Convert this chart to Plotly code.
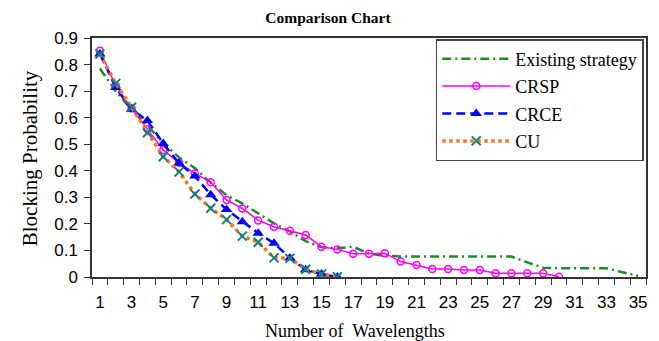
import plotly.graph_objects as go

wavelengths = list(range(1, 36))
x_tick_labels = [str(v) for v in range(1, 36, 2)]

existing = [0.785, 0.70, 0.63, 0.57, 0.505, 0.45, 0.41, 0.355, 0.308, 0.277, 0.24, 0.202,
            0.172, 0.135, 0.112, 0.108, 0.114, 0.088, 0.080, 0.077, 0.077, 0.077, 0.077,
            0.077, 0.077, 0.077, 0.077, 0.055, 0.035, 0.033, 0.033, 0.033, 0.033, 0.018, 0.004]
crsp = [0.852, 0.72, 0.635, 0.556, 0.478, 0.43, 0.39, 0.357, 0.29, 0.258, 0.213, 0.189,
        0.174, 0.158, 0.114, 0.104, 0.088, 0.088, 0.089, 0.058, 0.045, 0.030, 0.030,
        0.026, 0.026, 0.014, 0.014, 0.014, 0.014, 0.001]
crce = [0.84, 0.714, 0.631, 0.589, 0.503, 0.428, 0.38, 0.31, 0.254, 0.208, 0.165, 0.127,
        0.072, 0.027, 0.011, 0.0]
cu = [0.84, 0.729, 0.639, 0.543, 0.453, 0.396, 0.3125, 0.259, 0.216, 0.154, 0.131, 0.072,
      0.07, 0.029, 0.011, 0.001]

serif = "Liberation Serif, Times New Roman, serif"
sans = "Liberation Sans, Arial, sans-serif"

fig = go.Figure()
fig.add_trace(go.Scatter(x=wavelengths[:len(existing)], y=existing, name="Existing strategy",
                         mode="lines", legendgroup="a",
                         line=dict(color="#1f8a1f", width=2.5, dash="9px,4px,2px,4px")))
fig.add_trace(go.Scatter(x=wavelengths[:len(crsp)], y=crsp, name="CRSP", mode="lines+markers",
                         legendgroup="b",
                         line=dict(color="#ff00ff", width=1.5),
                         marker=dict(symbol="circle-open", size=7, color="#ff00ff",
                                     line=dict(width=1.5, color="#ff00ff"))))
fig.add_trace(go.Scatter(x=wavelengths[:len(crce)], y=crce, name="CRCE", mode="lines+markers",
                         legendgroup="c",
                         line=dict(color="#0000ff", width=2.5, dash="9px,5px"),
                         marker=dict(symbol="triangle-up", size=10, color="#0000ff")))
fig.add_trace(go.Scatter(x=wavelengths[:len(cu)], y=cu, name="CU", mode="lines+markers",
                         legendgroup="d",
                         line=dict(color="#ff7020", width=3.5, dash="dot"),
                         marker=dict(symbol="x-thin", size=9, color="#138080",
                                     line=dict(width=2, color="#138080"))))

# page body has an 8px margin, so all pixel positions are shifted by it
OFF = 8
L, R, T, B = 92 - OFF, 648 - OFF, 38 - OFF, 277 - OFF
W, H = 659 - OFF, 341 - OFF
pw, ph = R - L, B - T

fig.update_layout(
    width=W, height=H,
    margin=dict(l=L, r=W - R, t=T, b=H - B, pad=0),
    paper_bgcolor="white", plot_bgcolor="white",
    title=dict(text="<b>Comparison Chart</b>", font=dict(family=serif, size=15.5, color="black"),
               x=(328 - OFF) / W, xref="container", y=1 - (18 - OFF) / H, yref="container",
               yanchor="middle", xanchor="center"),
    showlegend=True,
    legend=dict(x=(437 - OFF - L) / pw, y=(B - (39 - OFF)) / ph, xanchor="left", yanchor="top",
                bordercolor="#444", borderwidth=1.5, bgcolor="white",
                font=dict(family=serif, size=18, color="black"),
                itemwidth=68, tracegroupgap=1),
    xaxis=dict(range=[0.5, 35.5], tickmode="array", tickvals=list(range(1, 36, 2)),
               ticktext=x_tick_labels, ticks="", showgrid=False, zeroline=False,
               showline=True, linecolor="#333", linewidth=1.5, mirror=True,
               ticklabelstandoff=9,
               tickfont=dict(family=sans, size=17, color="black"),
               minor=dict(tick0=0.5, dtick=1, ticks="outside", ticklen=6,
                          tickcolor="#333", tickwidth=1.2, showgrid=False)),
    yaxis=dict(range=[0, 0.9], tickmode="array", tickvals=[i / 10 for i in range(10)],
               ticktext=["0"] + [f"0.{i}" for i in range(1, 10)],
               ticks="outside", ticklen=6, tickcolor="#333", tickwidth=1.2,
               showgrid=False, zeroline=False, showline=True, linecolor="#333",
               linewidth=1.5, mirror=True, ticklabelstandoff=3,
               tickfont=dict(family=sans, size=17, color="black")),
    annotations=[
        dict(text="Blocking Probability", xref="paper", yref="paper",
             x=(30 - OFF - L) / pw, y=(B - (158 - OFF)) / ph, showarrow=False, textangle=-90,
             font=dict(family=serif, size=21, color="black"),
             xanchor="center", yanchor="middle"),
        dict(text="Number of  Wavelengths", xref="paper", yref="paper",
             x=(356 - OFF - L) / pw, y=(B - (331 - OFF)) / ph, showarrow=False,
             font=dict(family=serif, size=18, color="black"),
             xanchor="center", yanchor="middle"),
    ],
)

fig.write_html("out.html")
